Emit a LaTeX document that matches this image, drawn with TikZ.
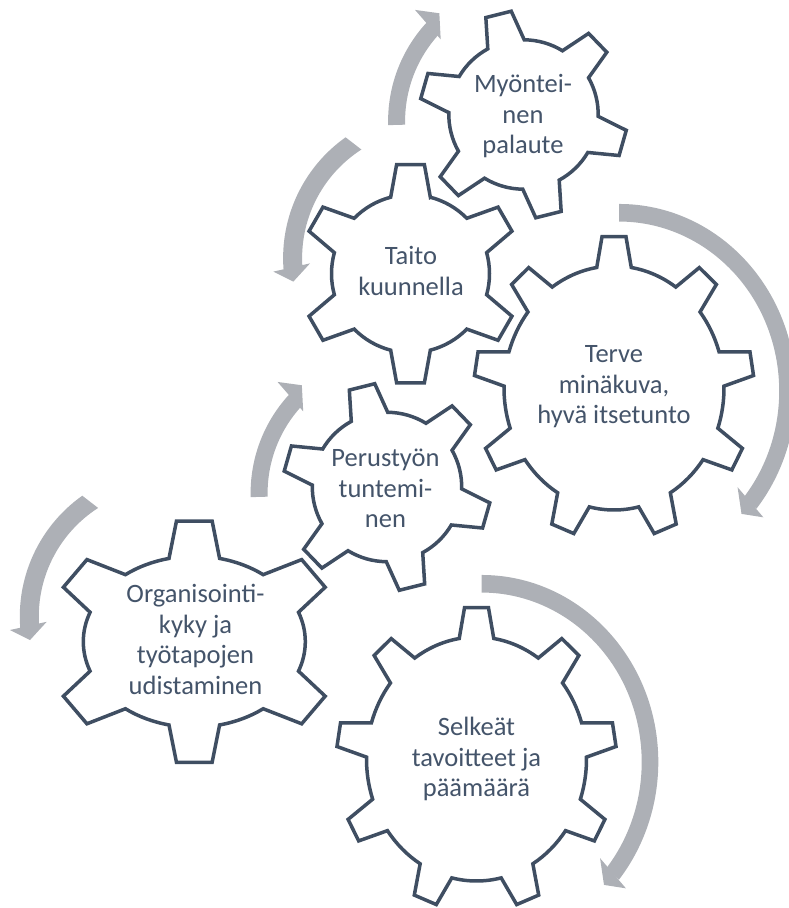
\documentclass[tikz,border=0pt]{standalone}
\usepackage{fontspec}
\setmainfont{Carlito}
\definecolor{gearcol}{HTML}{3F4E62}
\definecolor{textcol}{HTML}{44546A}
\definecolor{arrowcol}{HTML}{ADB0B6}

\newcommand\gearfont{\fontsize{26.5}{30.5}\selectfont}

% Gear outline around a named centre.
% #1 centre, #2/#3 body radii, #4 tooth height, #5 teeth,
% #6 angle of first tooth, #7 half base width, #8 half tip width
\newcommand\drawgear[8]{%
  \def\grw{#2}\def\grh{#3}\def\gth{#4}\def\gn{#5}%
  \def\grot{#6}\def\gbw{#7}\def\gtw{#8}%
  \pgfmathtruncatemacro\gnlast{#5-1}%
  \draw[gearline, shift={(#1)}] ({gpa(0)}:{gerad(gpa(0))})
    \foreach \k in {0,...,\gnlast}{
      -- ({gpb(\k)}:{gerad(gpb(\k))+\gth})
      -- ({gpc(\k)}:{gerad(gpc(\k))+\gth})
      -- ({gpd(\k)}:{gerad(gpd(\k))})
      arc[start angle={gepar(gpd(\k))}, delta angle={garcd(\k)},
          x radius=\grw, y radius=\grh]
    } -- cycle;
}

% Rising clockwise arrow left of a small gear
\newcommand\risearrow[1]{%
  \begin{scope}[shift={(#1)}]
    \fill[arrowcol] (181.6:145.3) arc[start angle=181.6, end angle=137.2, radius=145.3]
      -- (137.2:128.3) arc[start angle=137.2, end angle=181.6, radius=128.3] -- cycle;
    \fill[arrowcol] (136.8:162.4) -- (131.1:143.1) -- (138.6:123.6) -- cycle;
  \end{scope}}

% Falling anticlockwise arrow left of a medium gear
\newcommand\fallarrow[1]{%
  \begin{scope}[shift={(#1)}]
    \fill[arrowcol] (125.3:148) arc[start angle=125.3, end angle=184.5, radius=148]
      -- (184.5:129) arc[start angle=184.5, end angle=122.7, radius=129] -- cycle;
    \fill[arrowcol] (184.9:158.4) -- (189.7:139.8) -- (182.5:121.2) -- cycle;
  \end{scope}}

% Large clockwise arrow right of a big gear
\newcommand\bigarrow[1]{%
  \begin{scope}[shift={(#1)}, yscale=1.059]
    \fill[arrowcol] (90:176.6) arc[start angle=90, end angle=-39, radius=176.6]
      -- (-39:160) arc[start angle=-39, end angle=90, radius=160] -- cycle;
    \fill[arrowcol] (-37.5:149.2) -- (-43.5:168.6) -- (-39.6:187.2) -- cycle;
  \end{scope}}

\begin{document}
\begin{tikzpicture}[x=1pt, y=1pt,
  declare function={
    gerad(\q)=\grw*\grh/sqrt((\grh*cos(\q))^2+(\grw*sin(\q))^2);
    gepar(\q)=atan2(\grw*sin(\q),\grh*cos(\q));
    gphi(\q)=\grot+360*\q/\gn;
    gpa(\q)=gphi(\q)-atan(\gbw/gerad(gphi(\q)));
    gpd(\q)=gphi(\q)+atan(\gbw/gerad(gphi(\q)));
    gpb(\q)=gphi(\q)-atan(\gtw/(gerad(gphi(\q))+\gth));
    gpc(\q)=gphi(\q)+atan(\gtw/(gerad(gphi(\q))+\gth));
    garcd(\q)=mod(gepar(gpa(\q+1))-gepar(gpd(\q))+720,360);
  },
  gearline/.style={draw=gearcol, fill=white, line width=3.5pt, line join=miter},
  gtext/.style={font=\gearfont, text=textcol, align=center, inner sep=0pt}]

\useasboundingbox (0,0) rectangle (789,908);
\clip (0,0) rectangle (789,908);

% gear centres
\coordinate (cMyon) at (523.5,793.5);
\coordinate (cTaito) at (410.5,634.3);
\coordinate (cTerve) at (614,520);
\coordinate (cPerus) at (387,421);
\coordinate (cOrg) at (194.3,266.3);
\coordinate (cSelk) at (476.5,149);

% rotation arrows
\risearrow{533.4,786.9}
\risearrow{395.9,414.9}
\fallarrow{431.1,649.9}
\fallarrow{167.8,291.5}
\bigarrow{619.2,517}
\bigarrow{481.7,146}

% gears
\drawgear{cTaito}{79}{79}{31}{6}{90}{20.5}{14}
\drawgear{cMyon}{74.7}{74.7}{29.3}{6}{104}{19.4}{13.2}
\drawgear{cTerve}{110}{122}{30}{9}{90}{17.5}{12}
\drawgear{cPerus}{74.7}{74.7}{29.3}{6}{104}{19.4}{13.2}
\drawgear{cOrg}{111}{85.5}{36}{6}{90}{26}{18}
\drawgear{cSelk}{110}{122}{30}{9}{90}{17.5}{12}

% labels
\node[gtext] (tMyon) at (523,790.6) {\strut Myöntei-\\\strut nen\\\strut palaute};
\node[gtext] (tTaito) at (411,633.85) {\strut Taito\\\strut kuunnella};
\node[gtext] (tTerve) at (614,520.6) {\strut Terve\\\strut minäkuva,\\\strut hyvä itsetunto};
\node[gtext] (tPerus) at (385.5,416.6) {\strut Perustyön\\\strut tuntemi-\\\strut nen};
\node[gtext] (tOrg) at (195.5,265.35) {\strut Organisointi-\\\strut kyky ja\\\strut työtapojen\\\strut udistaminen};
\node[gtext] (tSelk) at (476.5,147.6) {\strut Selkeät\\\strut tavoitteet ja\\\strut päämäärä};
\end{tikzpicture}
\end{document}
